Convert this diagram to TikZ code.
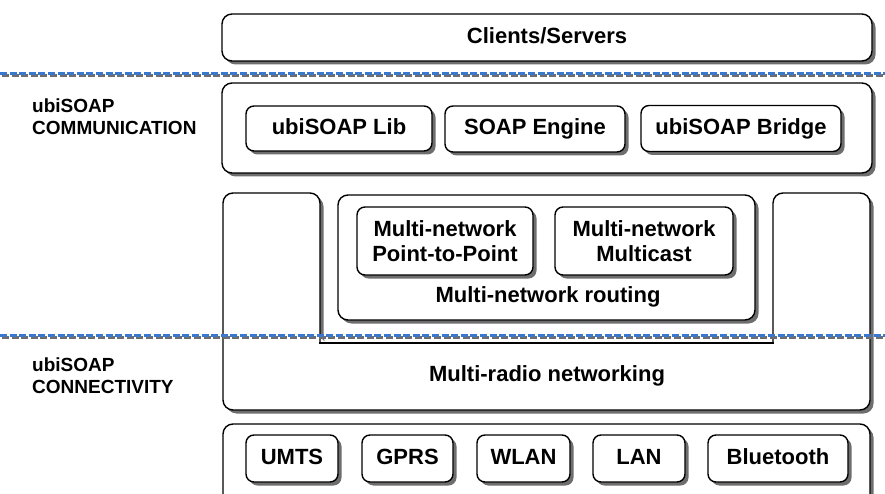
\documentclass[tikz,border=0pt]{standalone}
\usepackage{fontspec}
\setmainfont{Liberation Sans}
\usetikzlibrary{shadows}
\definecolor{dashblue}{RGB}{58,120,208}
\definecolor{shadowgray}{RGB}{110,110,110}
\begin{document}
\begin{tikzpicture}[x=1pt,y=-1pt,
  shade/.style={drop shadow={shadow xshift=3.5pt,shadow yshift=-3.5pt,fill=shadowgray,opacity=1}},
  outerbox/.style={draw=black,line width=1.4pt,fill=white,rounded corners=10pt,shade,
    inner sep=0pt,font=\fontsize{22}{26}\selectfont\bfseries},
  innerbox/.style={draw=black,line width=1.4pt,fill=white,rounded corners=8pt,shade,
    inner sep=0pt,font=\fontsize{22}{25}\selectfont\bfseries},
  oneline/.style={text height=16pt,text depth=4.5pt},
  twoline/.style={align=center},
  sidelabel/.style={anchor=north west,align=left,inner sep=0pt,
    font=\fontsize{19}{22}\selectfont\bfseries},
  plain/.style={inner sep=0pt,font=\fontsize{22}{26}\selectfont\bfseries,text height=16pt,text depth=4.5pt},
  sep/.style={dashblue,line width=3pt,dash pattern=on 7pt off 2.6pt},
  sepshadow/.style={shadowgray,line width=3pt,dash pattern=on 7pt off 2.6pt},
]
\useasboundingbox (0,0) rectangle (885,494);
\clip (0,0) rectangle (885,494);

% Clients/Servers
\node[outerbox,oneline,minimum width=650pt,minimum height=47pt] (cs) at (547,37.5) {Clients/Servers};

% Communication layer
\node[outerbox,minimum width=650pt,minimum height=90pt] (comm) at (547,128) {};
\node[innerbox,oneline,minimum width=186pt,minimum height=45pt] (lib) at (339,128.5) {ubiSOAP Lib};
\node[innerbox,oneline,minimum width=180pt,minimum height=46pt] (eng) at (535,129) {SOAP Engine};
\node[innerbox,oneline,minimum width=200pt,minimum height=46pt] (bridge) at (741,128.5) {ubiSOAP Bridge};

% U-shaped connectivity frame
\fill[shadowgray,rounded corners=10pt] (323.5,346.5) -- (323.5,196.5) -- (226.5,196.5) -- (226.5,413.5) -- (873.5,413.5) -- (873.5,196.5) -- (776.5,196.5) -- (776.5,346.5) -- cycle;
\fill[white,rounded corners=10pt] (320,343) -- (320,193) -- (223,193) -- (223,410) -- (870,410) -- (870,193) -- (773,193) -- (773,343) -- cycle;
\draw[line width=1.4pt,rounded corners=10pt] (320,343) -- (320,193) -- (223,193) -- (223,410) -- (870,410) -- (870,193) -- (773,193) -- (773,343);
\draw[line width=1.4pt,line cap=rect] (320,343) -- (773,343);
\node[plain] (radio) at (547,376) {Multi-radio networking};

% Routing
\node[outerbox,minimum width=417pt,minimum height=125pt] (routing) at (546.5,257.5) {};
\node[innerbox,twoline,minimum width=176pt,minimum height=68pt] (p2p) at (445,241) {Multi-network\\Point-to-Point};
\node[innerbox,twoline,minimum width=178pt,minimum height=68pt] (mc) at (644,241) {Multi-network\\Multicast};
\node[plain] (routlbl) at (548,297) {Multi-network routing};

% Network interfaces
\node[outerbox,minimum width=647pt,minimum height=90pt] (netif) at (546.5,469) {};
\node[innerbox,oneline,minimum width=92pt,minimum height=47pt] (umts) at (292,458.5) {UMTS};
\node[innerbox,oneline,minimum width=91pt,minimum height=47pt] (gprs) at (407.5,458.5) {GPRS};
\node[innerbox,oneline,minimum width=93pt,minimum height=47pt] (wlan) at (523.5,458.5) {WLAN};
\node[innerbox,oneline,minimum width=92pt,minimum height=47pt] (lan) at (639,458.5) {LAN};
\node[innerbox,oneline,minimum width=140pt,minimum height=47pt] (bt) at (778,458.5) {Bluetooth};

% Side labels
\node[sidelabel] (lcomm) at (32,99) {ubiSOAP\\COMMUNICATION};
\node[sidelabel] (lconn) at (32,358) {ubiSOAP\\CONNECTIVITY};

% Dashed separators
\coordinate (s1a) at (0,74); \coordinate (s1b) at (885,74);
\coordinate (s2a) at (0,335); \coordinate (s2b) at (885,335);
\draw[sepshadow] ([shift={(2,2)}]s1a) -- ([shift={(2,2)}]s1b);
\draw[sep] (s1a) -- (s1b);
\draw[sepshadow] ([shift={(2,2)}]s2a) -- ([shift={(2,2)}]s2b);
\draw[sep] (s2a) -- (s2b);
\end{tikzpicture}
\end{document}
